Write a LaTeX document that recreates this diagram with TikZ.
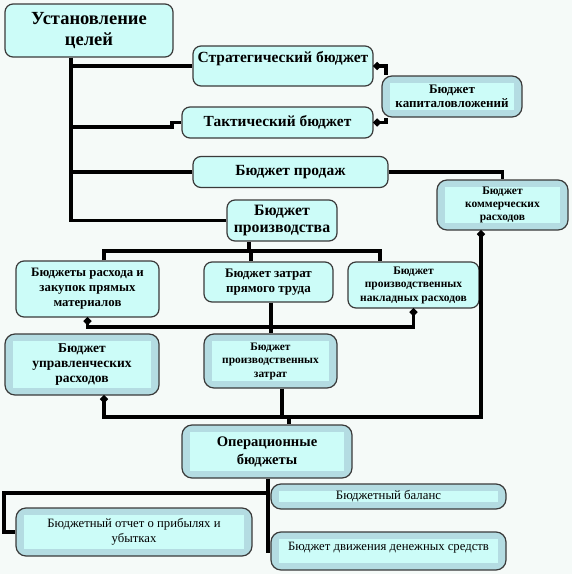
\documentclass[tikz,border=0pt]{standalone}
\usepackage{fontspec}
\setmainfont{Liberation Serif}
\usetikzlibrary{arrows.meta}
\definecolor{bgc}{HTML}{F5FAF8}
\definecolor{cyanf}{HTML}{CCFCF8}
\definecolor{bandc}{HTML}{B4DCE2}
\definecolor{edgec}{HTML}{3A3A3A}
\newcommand{\fs}[2]{\fontsize{#1}{#2}\selectfont}
\begin{document}
\begin{tikzpicture}[x=1pt,y=-1pt,
 box/.style={draw=edgec, line width=1.2pt, fill=cyanf, rounded corners=8pt, align=center, inner sep=0pt},
 bandbox/.style={box, fill=bandc, rounded corners=10pt,
   path picture={\fill[cyanf, sharp corners] ([shift={(8pt,-7pt)}]path picture bounding box.north west) rectangle ([shift={(-8pt,7pt)}]path picture bounding box.south east);}},
 sz/.style 2 args={minimum width=#1pt, minimum height=#2pt},
 conn/.style={line width=3.2pt, draw=black},
 dotS/.style={arrows={Circle[length=7pt]-}},
 dotSE/.style={arrows={Circle[length=7pt]-Circle[length=7pt]}}
]
\useasboundingbox (0,0) rectangle (572,574);
\fill[bgc] (0,0) rectangle (572,574);

\path
 (89,30.5) coordinate (p1) (283,66) coordinate (p2) (452,96.5) coordinate (p3)
 (277.5,122.5) coordinate (p4) (290.5,172) coordinate (p5) (502.5,205) coordinate (p6)
 (282,220.5) coordinate (p7) (87.5,289) coordinate (p8) (268.5,282) coordinate (p9)
 (413.5,285) coordinate (p10) (82,364.5) coordinate (p11) (270.5,361) coordinate (p12)
 (267,451.5) coordinate (p13) (388.5,496.5) coordinate (p14) (134,532) coordinate (p15)
 (388.5,551) coordinate (p16);

% ---------- boxes ----------
\node[box, sz={168}{53}, font=\bfseries\fs{18.5}{21}] (b1) at (p1) {Установление\\целей};
\node[box, sz={180}{40}, font=\bfseries\fs{15.5}{18}] (b2) at (p2) {Стратегический бюджет\\\mbox{}};
\node[bandbox, sz={140}{41}, font=\bfseries\fs{13}{14}] (b3) at (p3) {Бюджет\\капиталовложений};
\node[box, sz={191}{31}, font=\bfseries\fs{15.4}{18}] (b4) at (p4) {Тактический бюджет};
\node[box, sz={195}{31}, font=\bfseries\fs{15.5}{18}] (b5) at (p5) {Бюджет продаж};
\node[bandbox, sz={131}{50}, font=\bfseries\fs{11.5}{13}] (b6) at (p6) {Бюджет\\коммерческих\\расходов};
\node[box, sz={110}{41}, font=\bfseries\fs{15.8}{17}] (b7) at (p7) {Бюджет\\производства};
\node[box, sz={143}{56}, font=\bfseries\fs{12.8}{15}] (b8) at (p8) {Бюджеты расхода и\\закупок прямых\\материалов};
\node[box, sz={129}{40}, font=\bfseries\fs{13}{15}] (b9) at (p9) {Бюджет затрат\\прямого труда};
\node[box, sz={131}{46}, font=\bfseries\fs{11.5}{13.5}] (b10) at (p10) {Бюджет\\производственных\\накладных расходов};
\node[bandbox, sz={154}{61}, font=\bfseries\fs{13.5}{15}] (b11) at (p11) {Бюджет\\управленческих\\расходов};
\node[bandbox, sz={133}{54}, font=\bfseries\fs{11.4}{13.5}] (b12) at (p12) {Бюджет\\производственных\\затрат};
\node[bandbox, sz={170}{53}, font=\bfseries\fs{14.6}{18}] (b13) at (p13) {Операционные\\бюджеты};
\node[bandbox, sz={235}{25}, font=\fs{12.8}{15}] (b14) at (p14) {Бюджетный баланс};
\node[bandbox, sz={236}{48}, font=\fs{12.7}{15}] (b15) at (p15) {Бюджетный отчет о прибылях и\\убытках};
\node[bandbox, sz={235}{38}, font=\fs{12.7}{15}] (b16) at (p16) {Бюджет движения денежных средств\\[-6pt]\mbox{}};

% ---------- helper coordinates ----------
\coordinate (tx) at (71,0);
\coordinate (jog) at (172,127);
\coordinate (c3) at (386,0);
\coordinate (busA) at (0,251);
\coordinate (busB) at (0,327);
\coordinate (busC) at (0,417);
\coordinate (busD) at (0,493);
\coordinate (lx) at (4,0);
\coordinate (d6) at ([xshift=-21.5pt]b6.south);
\coordinate (d11) at ([xshift=22pt]b11.south);
\coordinate (d12) at ([xshift=11.5pt]b12.south);
\coordinate (d13) at ([xshift=22pt]b13.north);
\coordinate (d7) at ([xshift=-33pt]b7.south);
\coordinate (d8t) at ([xshift=16.5pt]b8.north);
\coordinate (d9t) at ([xshift=-17.5pt]b9.north);
\coordinate (d10t) at ([xshift=-33.5pt]b10.north);
\coordinate (d9b) at ([xshift=2.5pt]b9.south);
\coordinate (d13b) at ([xshift=1pt]b13.south);

% ---------- connectors ----------
\draw[conn] (b1.south -| tx) -- (tx |- b7.west) -- (b7.west);
\draw[conn] (tx |- b2.west) -- (b2.west);
\draw[conn] (tx |- jog) -- (jog) -- (jog |- b4.west) -- (b4.west);
\draw[conn] (tx |- b5.west) -- (b5.west);
\draw[conn, dotS] (b2.east) -- (c3 |- b2.east) -- (c3 |- b3.north);
\draw[conn, dotS] (b4.east) -- (c3 |- b4.east) -- (c3 |- b3.south);
\draw[conn] (b5.east) -- (b5.east -| b6.north) -- (b6.north);
\draw[conn, dotSE] (d6) -- (d6 |- busC) -- (d11 |- busC) -- (d11);
\draw[conn] (d12) -- (d12 |- busC);
\draw[conn] (d13 |- busC) -- (d13);
\draw[conn] (d7) -- (d7 |- busA);
\draw[conn] (d8t) -- (d8t |- busA) -- (d10t |- busA) -- (d10t);
\draw[conn] (d9t |- busA) -- (d9t);
\draw[conn, dotSE] (b8.south) -- (b8.south |- busB) -- (b10.south |- busB) -- (b10.south);
\draw[conn] (d9b) -- (d9b |- b12.north);
\draw[conn] (d13b) -- (d13b |- b16.west) -- (b16.west);
\draw[conn] (d13b |- b14.west) -- (b14.west);
\draw[conn] (d13b |- busD) -- (lx |- busD) -- (lx |- b15.west) -- (b15.west);
\end{tikzpicture}
\end{document}
